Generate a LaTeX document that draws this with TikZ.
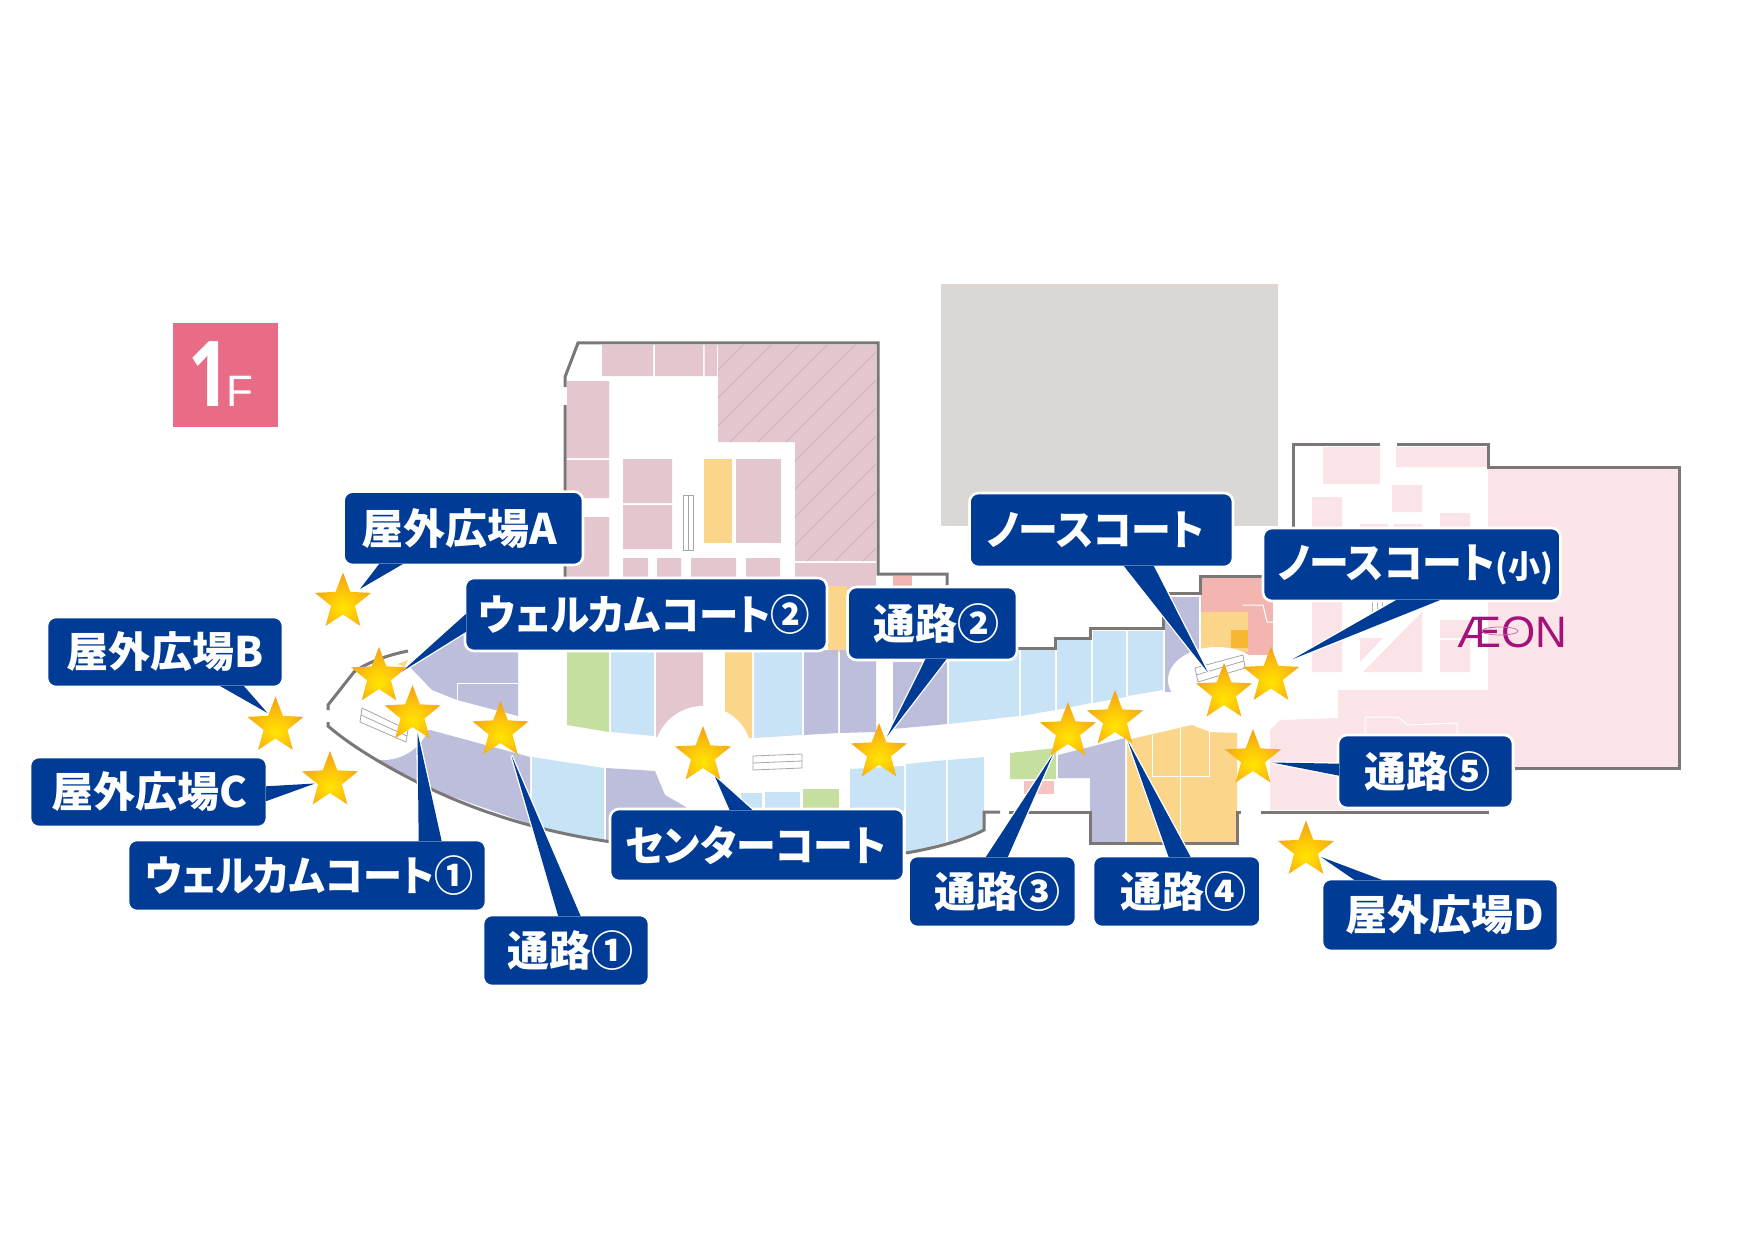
\documentclass[tikz,border=0pt]{standalone}
\usepackage{fontspec}
\usetikzlibrary{calc,shapes.geometric}
\newfontfamily\jp{Noto Sans CJK JP Black}[RawFeature=+palt]
\newfontfamily\lat{Liberation Sans}
\newfontfamily\onefont{Open Sans}
\definecolor{bubblecol}{HTML}{003B95}
\definecolor{wallcol}{HTML}{7A7776}
\definecolor{mauve}{HTML}{E3C6CE}
\definecolor{hatchcol}{HTML}{CDB0B9}
\definecolor{shopyellow}{HTML}{FBD589}
\definecolor{shopblue}{HTML}{C8E3F6}
\definecolor{shoplav}{HTML}{BCBEDC}
\definecolor{shopgreen}{HTML}{C5DF9F}
\definecolor{salmon}{HTML}{F2B5B0}
\definecolor{shoporange}{HTML}{F7B733}
\definecolor{aeonpink}{HTML}{FAE4E7}
\definecolor{floorpink}{HTML}{E96C86}
\definecolor{parkgray}{HTML}{DAD7D4}
\definecolor{aeonlogo}{HTML}{A5107B}
\pgfdeclareradialshading{starshade}{\pgfpoint{0bp}{-9bp}}{rgb(0bp)=(1,0.9,0);rgb(11bp)=(1,0.80,0.03);rgb(24bp)=(0.96,0.68,0.08);rgb(40bp)=(0.91,0.58,0.08);rgb(60bp)=(0.91,0.58,0.08)}
\pgfdeclarelayer{plan}\pgfdeclarelayer{tailout}\pgfdeclarelayer{tailfill}\pgfdeclarelayer{front}
\pgfsetlayers{plan,tailout,main,tailfill,front}
\tikzset{
  wall/.style={draw=wallcol,line width=3pt,line cap=butt,line join=miter},
  thinwhite/.style={draw=white,line width=1pt},
  esc/.style={draw=black!35,fill=white,line width=0.8pt},
  bubble/.style={rectangle,rounded corners=9pt,fill=bubblecol,draw=white,line width=2.6pt,inner sep=0pt,text=white,font=\jp\fontsize{42}{42}\selectfont},
  stardot/.style={star,star points=5,star point ratio=2.35,minimum size=59pt,inner sep=0pt,shading=starshade}
}
\newcommand{\kana}[1]{\scalebox{0.95}[1]{#1}}
\newcommand{\tr}[1]{\hspace*{#1pt}}
\newcommand{\bub}[6]{\node[bubble,minimum width={(#4-#2)*1pt},minimum height={(#5-#3)*1pt}] (#1) at ({(#2+#4)/2},{(#3+#5)/2}) {#6};}
\newcommand{\tailp}[3]{%
  \begin{pgfonlayer}{tailout}\draw[white,line width=2.6pt,line join=miter,fill=bubblecol] #1 -- #3 -- #2 -- cycle;\end{pgfonlayer}%
  \begin{pgfonlayer}{tailfill}\fill[bubblecol] #1 -- #3 -- #2 -- cycle;\end{pgfonlayer}}
\begin{document}
\begin{tikzpicture}[x=1pt,y=-1pt]
\useasboundingbox (0,0) rectangle (1754,1241);
\begin{pgfonlayer}{plan}
\fill[white] (0,0) rectangle (1754,1241);
% parking block and floor badge
\fill[parkgray] (940.5,284) rectangle (1277.5,526);
\fill[floorpink] (173,323) rectangle (278,427);
\node[anchor=base,text=white,font=\onefont\bfseries\fontsize{91}{91}\selectfont,inner sep=0pt] (floornum) at (209,406) {\scalebox{0.8}[1]{1}};
\node[anchor=base,text=white,font=\lat\fontsize{44}{44}\selectfont,inner sep=0pt] (floorf) at (240,406) {F};
% north-west block
\fill[mauve] (602,345) rectangle (653,376) (655,345) rectangle (703,376) (704.5,345) rectangle (717,376);
\fill[mauve] (718,345) -- (876,345) -- (876,561) -- (795,561) -- (795,442) -- (718,442) -- cycle;
\begin{scope}
\clip (718,345) -- (876,345) -- (876,561) -- (795,561) -- (795,442) -- (718,442) -- cycle;
\foreach \k in {-180,-152,...,220}{\draw[hatchcol,line width=0.7pt] ({640+\k},600) -- ({640+\k+270},330);}
\end{scope}
\fill[mauve] (795,563) rectangle (876,590);
\fill[mauve] (567,381) rectangle (609,458) (567,460) rectangle (609,498) (567,517) rectangle (609,580);
\fill[mauve] (623,459) rectangle (672,503) (623,505) rectangle (672,549);
\fill[shopyellow] (704,459) rectangle (732,543);
\fill[mauve] (736,459) rectangle (781,543);
\fill[mauve] (623,558) rectangle (648,580) (657,558) rectangle (681,580) (691,558) rectangle (736,580) (746,558) rectangle (780,580);
\fill[shopyellow] (828,586) rectangle (847,652);
\fill[salmon] (893,576) rectangle (912,586);
\draw[esc] (683,495) rectangle (693,550) (688,495) -- (688,550);
% row above the mall
\fill[shopgreen] (567,652) -- (609,652) -- (609,732) -- (567,725) -- cycle;
\fill[shopblue] (611,652) -- (654,652) -- (654,736) -- (611,732) -- cycle;
\fill[mauve] (656,652) -- (703,652) -- (703,740) -- (656,737) -- cycle;
\fill[shopyellow] (725,652) -- (752,652) -- (752,738) -- (725,739) -- cycle;
\fill[shopblue] (754,652) -- (802,652) -- (802,735) -- (754,738) -- cycle;
\fill[shoplav] (804,650) -- (838,650) -- (838,733) -- (804,735) -- cycle;
\fill[shoplav] (840,650) -- (876,650) -- (876,732) -- (840,733) -- cycle;
\fill[shoplav] (893,662) -- (947,662) -- (947,724) -- (893,729) -- cycle;
\fill[shopblue] (949,650) -- (1019,650) -- (1019,716) -- (949,724) -- cycle;
\fill[shopblue] (1021,650) -- (1055,650) -- (1055,710) -- (1021,716) -- cycle;
\fill[shopblue] (1057,640) -- (1091,640) -- (1091,703) -- (1057,710) -- cycle;
\fill[shopblue] (1093,631) -- (1126,631) -- (1126,697) -- (1093,703) -- cycle;
\fill[shopblue] (1128,631) -- (1163,631) -- (1163,690) -- (1128,696) -- cycle;
\fill[shoplav] (1165,597) -- (1199,597) -- (1199,692) -- (1165,692) -- cycle;
\fill[salmon] (1201,577) rectangle (1273,655);
\fill[shopyellow] (1201,612) rectangle (1248,652);
\fill[shoporange] (1231,630) rectangle (1248,648);
\draw[thinwhite] (1243,605) -- (1263,605) -- (1267,622) -- (1273,622);
% west court
\fill[shoplav] (408,665) -- (465,630) -- (518,652) -- (518,716) -- (457,700) -- (432,690) -- cycle;
\draw[thinwhite] (518,683) -- (457,683) -- (457,700);
\fill[shopyellow] (388,668) -- (408,660) -- (402,672) -- cycle;
% row below the mall
\fill[shoplav] (415,733) -- (430,730) -- (530,757) -- (530,824) -- (442,793) -- (383,763) -- (350,742) -- cycle;
\fill[shopblue] (532,757) -- (604,768) -- (604,842) -- (547,830) -- (532,825) -- cycle;
\fill[shoplav] (606,768) -- (655,771) -- (665,795) -- (686,807) -- (686,815) -- (640,850) -- (606,842) -- cycle;
\fill[shopblue] (741,793) rectangle (762,812) (765,792) rectangle (800,812);
\fill[shopgreen] (803,789) rectangle (839,812);
\fill[shopblue] (850,769) -- (904,766) -- (904,853) -- (850,858) -- cycle;
\fill[shopblue] (906,764) -- (946,760) -- (946,842) -- (906,853) -- cycle;
\fill[shopblue] (948,760) -- (984,757) -- (984,830) -- (948,842) -- cycle;
\fill[shopgreen] (1010,753) -- (1056,748) -- (1056,779) -- (1010,779) -- cycle;
\fill[salmon!80!white] (1024,781) rectangle (1054,794);
\fill[shoplav] (1058,755) -- (1125,738) -- (1125,842) -- (1090,842) -- (1090,778) -- (1058,778) -- cycle;
\fill[shopyellow] (1127,740) -- (1192,725) -- (1210,732) -- (1237,733) -- (1237,842) -- (1127,842) -- cycle;
\draw[thinwhite] (1152,735) -- (1152,776) -- (1209,776) -- (1209,732) (1180,728) -- (1180,842);
% AEON side
\fill[aeonpink] (1270,730) -- (1280,720) -- (1338,718) -- (1338,690) -- (1488,690) -- (1488,468) -- (1679,468) -- (1679,768) -- (1489,768) -- (1489,810) -- (1270,810) -- cycle;
\draw[thinwhite] (1365,717) -- (1365,740) (1365,717) -- (1398,717) -- (1408,725) -- (1457,723) -- (1457,738);
\fill[aeonpink] (1323,447) rectangle (1380,484) (1396,447) rectangle (1487,467) (1392,485) rectangle (1422,512);
\fill[aeonpink] (1312,497) rectangle (1342,672) (1360,524) rectangle (1388,600) (1394,524) rectangle (1422,600);
\fill[aeonpink] (1440,513) rectangle (1470,600) (1440,620) rectangle (1470,638) (1440,640) rectangle (1470,672);
\fill[aeonpink] (1360,638) -- (1383,638) -- (1360,662) -- cycle;
\fill[aeonpink] (1422,612) -- (1422,672) -- (1363,672) -- cycle;
\draw[black!30,line width=0.7pt] (1372,602) -- (1372,612) (1377,602) -- (1377,612) (1382,602) -- (1382,612);
% round courts
\fill[white] (383,711) circle[radius=49pt];
\fill[white] (703,755) circle[radius=49pt];
\fill[white] (1217,680) ellipse[x radius=49pt,y radius=33pt];
\draw[esc] (362,708) -- (408,730) -- (406,742) -- (360,722) -- cycle (361,715) -- (407,736);
\draw[esc] (753,756) -- (802,754) -- (802,768) -- (753,770) -- cycle (753,763) -- (802,761);
\draw[esc] (1195,668) -- (1243,655) -- (1245,668) -- (1198,682) -- cycle (1196,675) -- (1244,661);
% walls
\draw[wall] (565,577) -- (565,405) (565,387) -- (565,377) -- (578,343) -- (878,343) -- (878,574) -- (947,574) -- (947,585);
\draw[wall] (1017,648) -- (1055,648) -- (1055,638) -- (1090,638) -- (1090,628) -- (1163,628) -- (1163,593) -- (1200,593) -- (1200,576) -- (1262,576);
\draw[wall] (328,710) -- (328,705) -- (354,672) .. controls (368,662) and (388,655) .. (408,651);
\draw[wall] (328,722) -- (328,726) .. controls (350,745) and (380,763) .. (413,780) .. controls (470,810) and (540,832) .. (612,842);
\draw[wall] (906,853) .. controls (935,848) and (965,840) .. (984,830) -- (984,812) -- (1000,812);
\draw[wall] (1009,812) -- (1090,812) -- (1090,843) -- (1237,843) -- (1237,812) -- (1241,812);
\draw[wall] (1261,812) -- (1489,812);
\draw[wall] (1293,527) -- (1293,444) -- (1380,444);
\draw[wall] (1397,444) -- (1488,444) -- (1488,467) -- (1679,467) -- (1679,768) -- (1515,768);
% logo
\node[anchor=base,text=aeonlogo,font=\lat\fontsize{44}{44}\selectfont,inner sep=0pt] (aeon) at (1512,647) {ÆON};
\draw[aeonlogo!60!white,line width=0.8pt] (1500,631) ellipse[x radius=18pt,y radius=4pt];
\end{pgfonlayer}
% stars
\begin{pgfonlayer}{front}
\node[stardot] (sA) at (343,602) {};
\node[stardot] (sW2) at (379,676.5) {};
\node[stardot] (sB) at (275.5,726) {};
\node[stardot] (sC) at (330,780.5) {};
\node[stardot] (sW1) at (412.5,714.5) {};
\node[stardot] (s1) at (500.5,730.5) {};
\node[stardot] (sCC) at (703,755.5) {};
\node[stardot] (s2) at (879,752.5) {};
\node[stardot] (s3) at (1068,731.5) {};
\node[stardot] (s4) at (1115,719.5) {};
\node[stardot] (sN) at (1224,692.5) {};
\node[stardot] (sNs) at (1271,676) {};
\node[stardot] (s5) at (1253,758.5) {};
\node[stardot] (sD) at (1306,850) {};
\end{pgfonlayer}
% labels
\bub{lA}{343.6}{491.6}{583}{565}{屋外広場A\tr{7}}
\bub{lB}{47}{617}{283}{687}{屋外広場B}
\bub{lC}{30}{757}{267}{827}{\tr{2}屋外広場C}
\bub{lW1}{128}{840}{486}{911}{\tr{4}\scalebox{0.93}[1]{ウェルカムコート①}}
\bub{l1}{483}{915}{649}{986}{\tr{9}通路①}
\bub{lW2}{465}{578}{827}{651}{\scalebox{0.94}[1]{ウェルカムコート②}\tr{3}}
\bub{l2}{847.5}{587}{1017}{660}{\tr{9}通路②}
\bub{lCC}{610}{809}{904}{881}{\kana{センターコート}\tr{2}}
\bub{l3}{908.5}{856}{1076}{927}{\tr{11}通路③}
\bub{l4}{1093}{856}{1260.5}{927}{\tr{13}通路④}
\bub{lD}{1322}{879}{1558}{951}{\tr{9}屋外広場D}
\bub{l5}{1338}{735}{1513}{808}{\tr{4}通路⑤}
\bub{lN}{969.5}{493}{1233}{567}{\kana{ノースコート}\tr{11}}
\bub{lNs}{1263}{528}{1560.5}{601}{\tr{7}\kana{ノースコート}{\fontsize{32}{32}\selectfont (小)}}
% tails
\tailp{($(lA.south west)+(37,-2.5)$)}{($(lA.south west)+(61,-2.5)$)}{($(sA)+(17,-13)$)}
\tailp{($(lB.south west)+(174,-2.5)$)}{($(lB.south west)+(198,-2.5)$)}{($(sB)+(-8,-13)$)}
\tailp{($(lC.south east)+(-2.5,-42)$)}{($(lC.south east)+(-2.5,-27)$)}{($(sC)+(-15,3)$)}
\tailp{($(lW1.north west)+(292,2.5)$)}{($(lW1.north west)+(315,2.5)$)}{($(sW1)+(5,18)$)}
\tailp{($(l1.north west)+(76.5,2.5)$)}{($(l1.north west)+(99,2.5)$)}{($(s1)+(11,25)$)}
\tailp{($(lW2.north west)+(2.5,37)$)}{($(lW2.north west)+(2.5,55)$)}{($(sW2)+(23,-5)$)}
\tailp{($(l2.south west)+(79.5,-2.5)$)}{($(l2.south west)+(100.5,-2.5)$)}{($(s2)+(8,-16)$)}
\tailp{($(lCC.north west)+(121,2.5)$)}{($(lCC.north west)+(144,2.5)$)}{($(sCC)+(12,21)$)}
\tailp{($(l3.north west)+(78.5,2.5)$)}{($(l3.north west)+(100.5,2.5)$)}{($(s3)+(-15,23)$)}
\tailp{($(l4.north west)+(77,2.5)$)}{($(l4.north west)+(99,2.5)$)}{($(s4)+(13,22)$)}
\tailp{($(lN.south west)+(155.5,-2.5)$)}{($(lN.south west)+(185.5,-2.5)$)}{($(sN)+(-16,-20)$)}
\tailp{($(lNs.south west)+(135,-2.5)$)}{($(lNs.south west)+(179,-2.5)$)}{($(sNs)+(22,-17)$)}
\tailp{($(l5.north west)+(2.5,30)$)}{($(l5.north west)+(2.5,42)$)}{($(s5)+(19,4)$)}
\tailp{($(lD.north west)+(34,2.5)$)}{($(lD.north west)+(62,2.5)$)}{($(sD)+(15,7)$)}
\end{tikzpicture}
\end{document}
